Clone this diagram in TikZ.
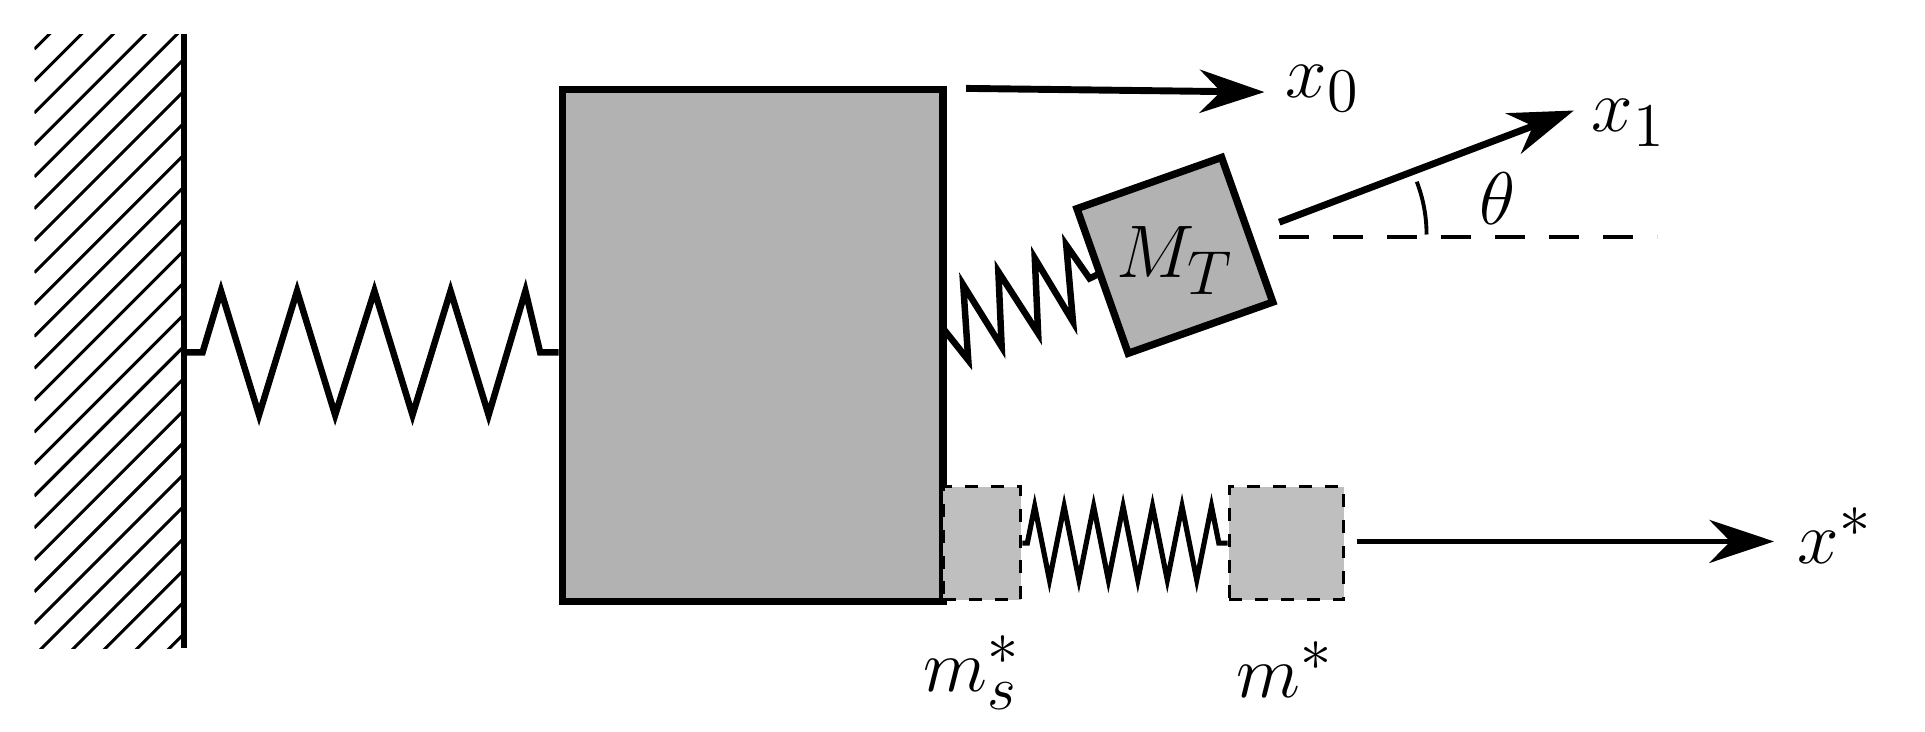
\documentclass[tikz,border=0pt]{standalone}
\usetikzlibrary{decorations.pathmorphing,arrows.meta}
\begin{document}
\begin{tikzpicture}[x=0.1mm,y=-0.1mm,
  thick/.style={line width=1.5pt},
  blk/.style={draw,line width=1.7pt,fill=black!30},
  ghost/.style={draw,dashed,line width=0.8pt,fill=black!25},
  arr/.style={line width=1.6pt,-{Stealth[length=15pt,width=10pt]}},
  lbl/.style={font=\fontsize{19}{22}\selectfont}]
\useasboundingbox (0,0) rectangle (1568,596);
% wall hatching
\begin{scope}
\clip (28,28) rectangle (150,528);
\foreach \i in {0,...,26} \draw[line width=0.7pt] (28,40+\i*26) -- ++(140,-140);
\end{scope}
\draw[thick] (150,28) -- (150,528);
% big spring
\draw[line width=1.5pt] (150,287) -- (165,287) -- (180,237) -- (211,338) -- (242,237) -- (273,338) -- (305,237) -- (336,338) -- (367,237) -- (398,338) -- (428,237) -- (440,287) -- (455,287);
% big block
\node[blk,minimum width=310*0.1mm,minimum height=417*0.1mm,inner sep=0,anchor=north west] (B) at (455,70) {};
% x0 arrow
\coordinate (x0s) at (787,72);
\coordinate (x0e) at (1030,75);
\draw[arr] (x0s) -- (x0e);
\node[lbl,anchor=west] (x0) at (1035,72) {$x_0$};
% MT
\node[blk,rotate=19.5,minimum width=125*0.1mm,minimum height=125*0.1mm,inner sep=0] (MT) at (957,208) {};
\node[lbl] (mtl) at (957,212) {$M_T$};
% small spring
\draw[line width=1.5pt,line join=miter] (767,266) -- (788.7,293.3) -- (784.6,232.1) -- (815.9,282.4) -- (813.2,221.3) -- (845.6,271.5) -- (842.9,210.4) -- (874,262) -- (868.5,199.6) -- (887.5,226.8) -- (895.7,222.8);
% x1 arrow
\coordinate (x1e) at (1282,90);
\draw[arr] (1042,181) -- (x1e);
\node[lbl,anchor=west] (x1) at (1284,100) {$x_1$};
\coordinate (dend) at (1350,193);
\draw[line width=0.9pt,dash pattern=on 24*0.1mm off 20*0.1mm] (1042,193) -- (dend);
\draw[line width=0.9pt] (1162,191) arc[start angle=0,end angle=21,radius=120*0.1mm];
\node[lbl] (th) at (1220,162) {$\theta$};
% bottom
\node[ghost,minimum width=63*0.1mm,minimum height=92*0.1mm,inner sep=0,anchor=north west] (ms) at (767,395) {};
\node[ghost,minimum width=93*0.1mm,minimum height=92*0.1mm,inner sep=0,anchor=north west] (m) at (1000,395) {};
\draw[line width=1.2pt,decoration={zigzag,segment length=24*0.1mm,amplitude=30*0.1mm,pre length=4*0.1mm,post length=4*0.1mm},decorate] (ms.east) -- (m.west);
\coordinate (xs) at (1445,441);
\draw[arr,line width=1.1pt] (1105,441) -- (xs);
\node[lbl,anchor=west] (xsl) at (1452,436) {$x^*$};
\node[lbl] (msl) at (792,548) {$m_s^*$};
\node[lbl] (ml) at (1047,545) {$m^*$};
\end{tikzpicture}
\end{document}
